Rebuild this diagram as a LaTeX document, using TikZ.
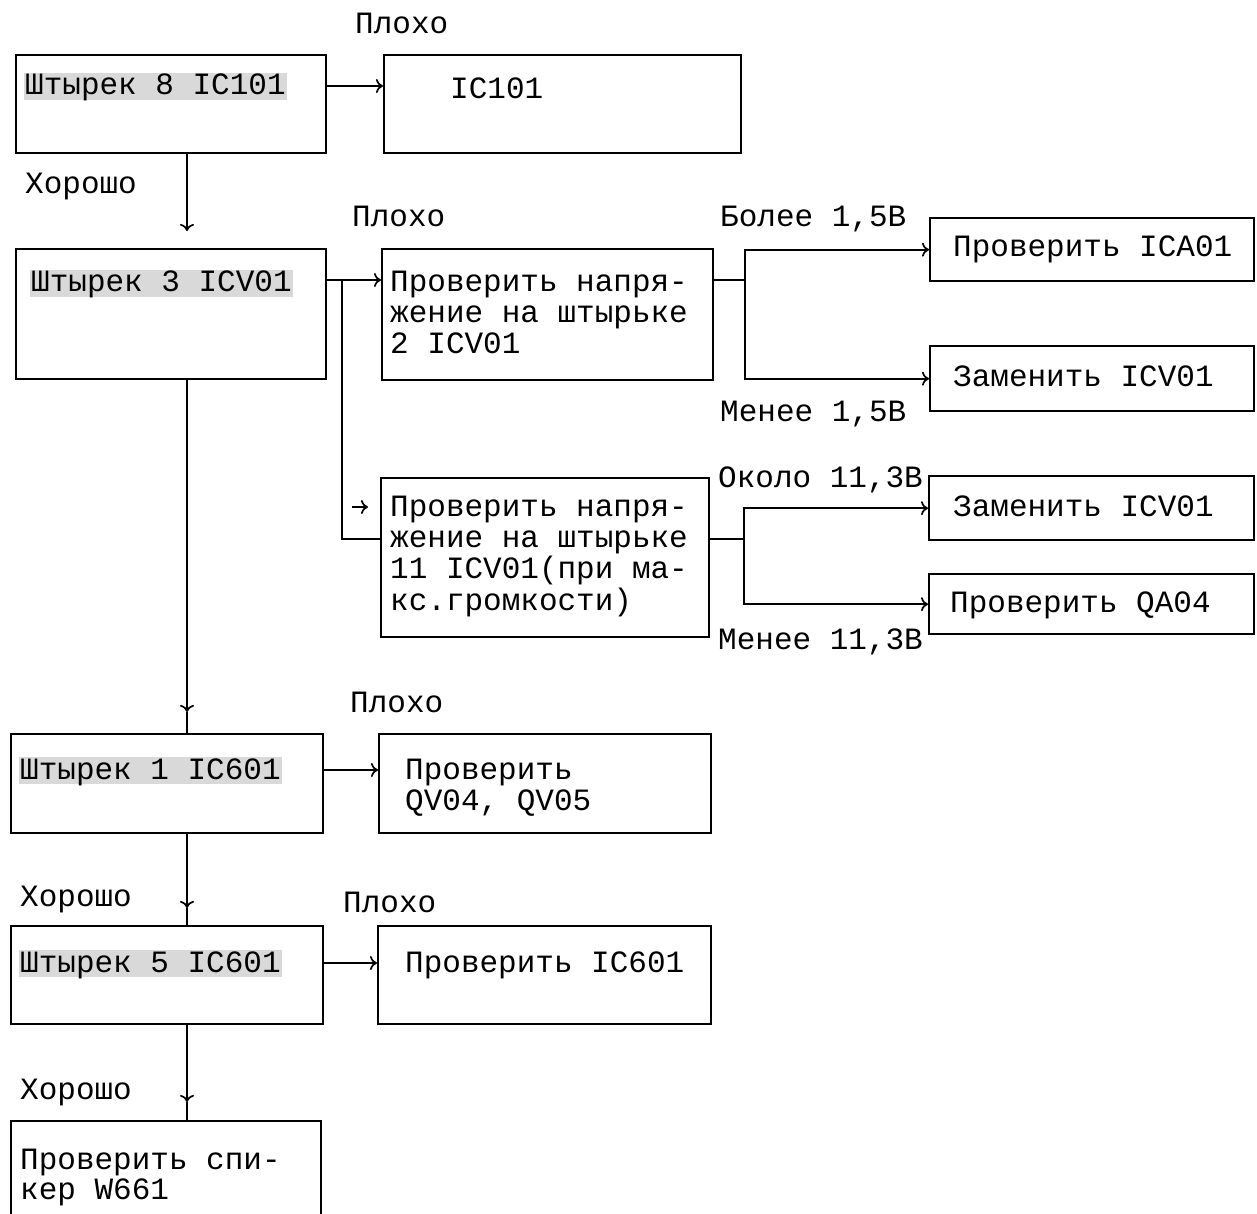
\documentclass[tikz,border=0pt]{standalone}
\usepackage{fontspec}
\setmainfont{Liberation Mono}
\usetikzlibrary{arrows.meta,calc}
\begin{document}
\begin{tikzpicture}[x=1pt,y=-1pt,
  box/.style={draw, line width=2.4pt, inner sep=0pt, anchor=north west},
  txt/.style={inner sep=0pt, anchor=base west, align=left, font=\fontsize{31}{31.4}\selectfont},
  hl/.style={txt, fill=black!15, inner xsep=1pt, text height=22pt, text depth=5pt},
  conn/.style={line width=1.7pt},
  arr/.style={conn, -{To[length=7pt,width=14pt,line width=1.7pt]}}]
\useasboundingbox (0,0) rectangle (1257,1214);
\fill[white] (0,0) rectangle (1257,1214);
\clip (0,0) rectangle (1257,1214);

% boxes
\node[box, minimum width=310, minimum height=98]  (A) at (15,54) {};
\node[box, minimum width=357, minimum height=98]  (B) at (383,54) {};
\node[box, minimum width=310, minimum height=130] (C) at (15,248) {};
\node[box, minimum width=331, minimum height=131] (D) at (381,248) {};
\node[box, minimum width=328, minimum height=159] (E) at (380,477) {};
\node[box, minimum width=324, minimum height=63]  (F) at (929,217) {};
\node[box, minimum width=324, minimum height=65]  (G) at (929,345) {};
\node[box, minimum width=325, minimum height=64]  (H) at (928,475) {};
\node[box, minimum width=325, minimum height=60]  (I) at (928,573) {};
\node[box, minimum width=312, minimum height=99]  (J) at (10,733) {};
\node[box, minimum width=332, minimum height=99]  (K) at (378,733) {};
\node[box, minimum width=312, minimum height=98]  (L) at (10,925) {};
\node[box, minimum width=333, minimum height=98]  (M) at (377,925) {};
\node[box, minimum width=310, minimum height=130] (N) at (10,1120) {};

% box texts (multi-line nodes: base = last line)
\node[hl]  (tA) at (24,95)   {Штырек 8 IC101};
\node[txt] (tB) at (450,99)  {IC101};
\node[hl]  (tC) at (30,292)  {Штырек 3 ICV01};
\node[txt] (tD) at (390,353.8) {Проверить напря-\\жение на штырьке\\2 ICV01};
\node[txt] (tE) at (390,610.2) {Проверить напря-\\жение на штырьке\\11 ICV01(при ма-\\кс.громкости)};
\node[txt] (tF) at (953,257) {Проверить ICA01};
\node[txt] (tG) at (953,386) {Заменить ICV01};
\node[txt] (tH) at (953,516) {Заменить ICV01};
\node[txt] (tI) at (950,612) {Проверить QA04};
\node[hl]  (tJ) at (19,779)  {Штырек 1 IC601};
\node[txt] (tK) at (405,810.4) {Проверить\\QV04, QV05};
\node[hl]  (tL) at (19,972)  {Штырек 5 IC601};
\node[txt] (tM) at (405,972) {Проверить IC601};
\node[txt, font=\fontsize{31}{30}\selectfont] (tN) at (20,1199) {Проверить спи-\\кер W661};

% labels
\node[txt] (l1) at (355,34)   {Плохо};
\node[txt] (l2) at (25,194)   {Хорошо};
\node[txt] (l3) at (352,227)  {Плохо};
\node[txt] (l4) at (720,227)  {Более 1,5В};
\node[txt] (l5) at (720,421)  {Менее 1,5В};
\node[txt] (l6) at (718,487)  {Около 11,3В};
\node[txt] (l7) at (718,649)  {Менее 11,3В};
\node[txt] (l8) at (350,712)  {Плохо};
\node[txt] (l9) at (20,906)   {Хорошо};
\node[txt] (l10) at (343,912) {Плохо};
\node[txt] (l11) at (20,1099) {Хорошо};

% junction coordinates
\coordinate (col) at (187,0);
\coordinate (br) at (342,280);
\coordinate (dj) at (745,280);
\coordinate (ej) at (744,539);

% horizontal connectors
\draw[arr] ($(A.north east)+(0,32)$) -- ($(B.north west)+(0,32)$);
\draw[arr] ($(C.north east)+(0,32)$) -- ($(D.north west)+(0,32)$);
\draw[conn] (br) |- ($(E.north west)+(0,62)$);
\draw[arr] ($(E.north west)+(-28,30)$) -- ($(E.north west)+(-12,30)$);
\draw[conn] ($(D.north east)+(0,32)$) -- (dj);
\draw[arr] (dj) |- (F.west);
\draw[arr] (dj) |- (G.west);
\draw[conn] ($(E.north east)+(0,62)$) -- (ej);
\draw[arr] (ej) |- (H.west);
\draw[arr] (ej) |- (I.west);
\draw[arr] ($(J.north east)+(0,37)$) -- ($(K.north west)+(0,37)$);
\draw[arr] ($(L.north east)+(0,38)$) -- ($(M.north west)+(0,38)$);

% vertical connectors
\draw[arr] (A.south -| col) -- ($(C.north -| col)+(0,-17)$);
\draw[arr] (C.south -| col) -- ($(J.north -| col)+(0,-21)$);
\draw[conn] ($(J.north -| col)+(0,-21)$) -- (J.north -| col);
\draw[arr] (J.south -| col) -- ($(L.north -| col)+(0,-17)$);
\draw[conn] ($(L.north -| col)+(0,-17)$) -- (L.north -| col);
\draw[arr] (L.south -| col) -- ($(N.north -| col)+(0,-18)$);
\draw[conn] ($(N.north -| col)+(0,-18)$) -- (N.north -| col);
\end{tikzpicture}
\end{document}
